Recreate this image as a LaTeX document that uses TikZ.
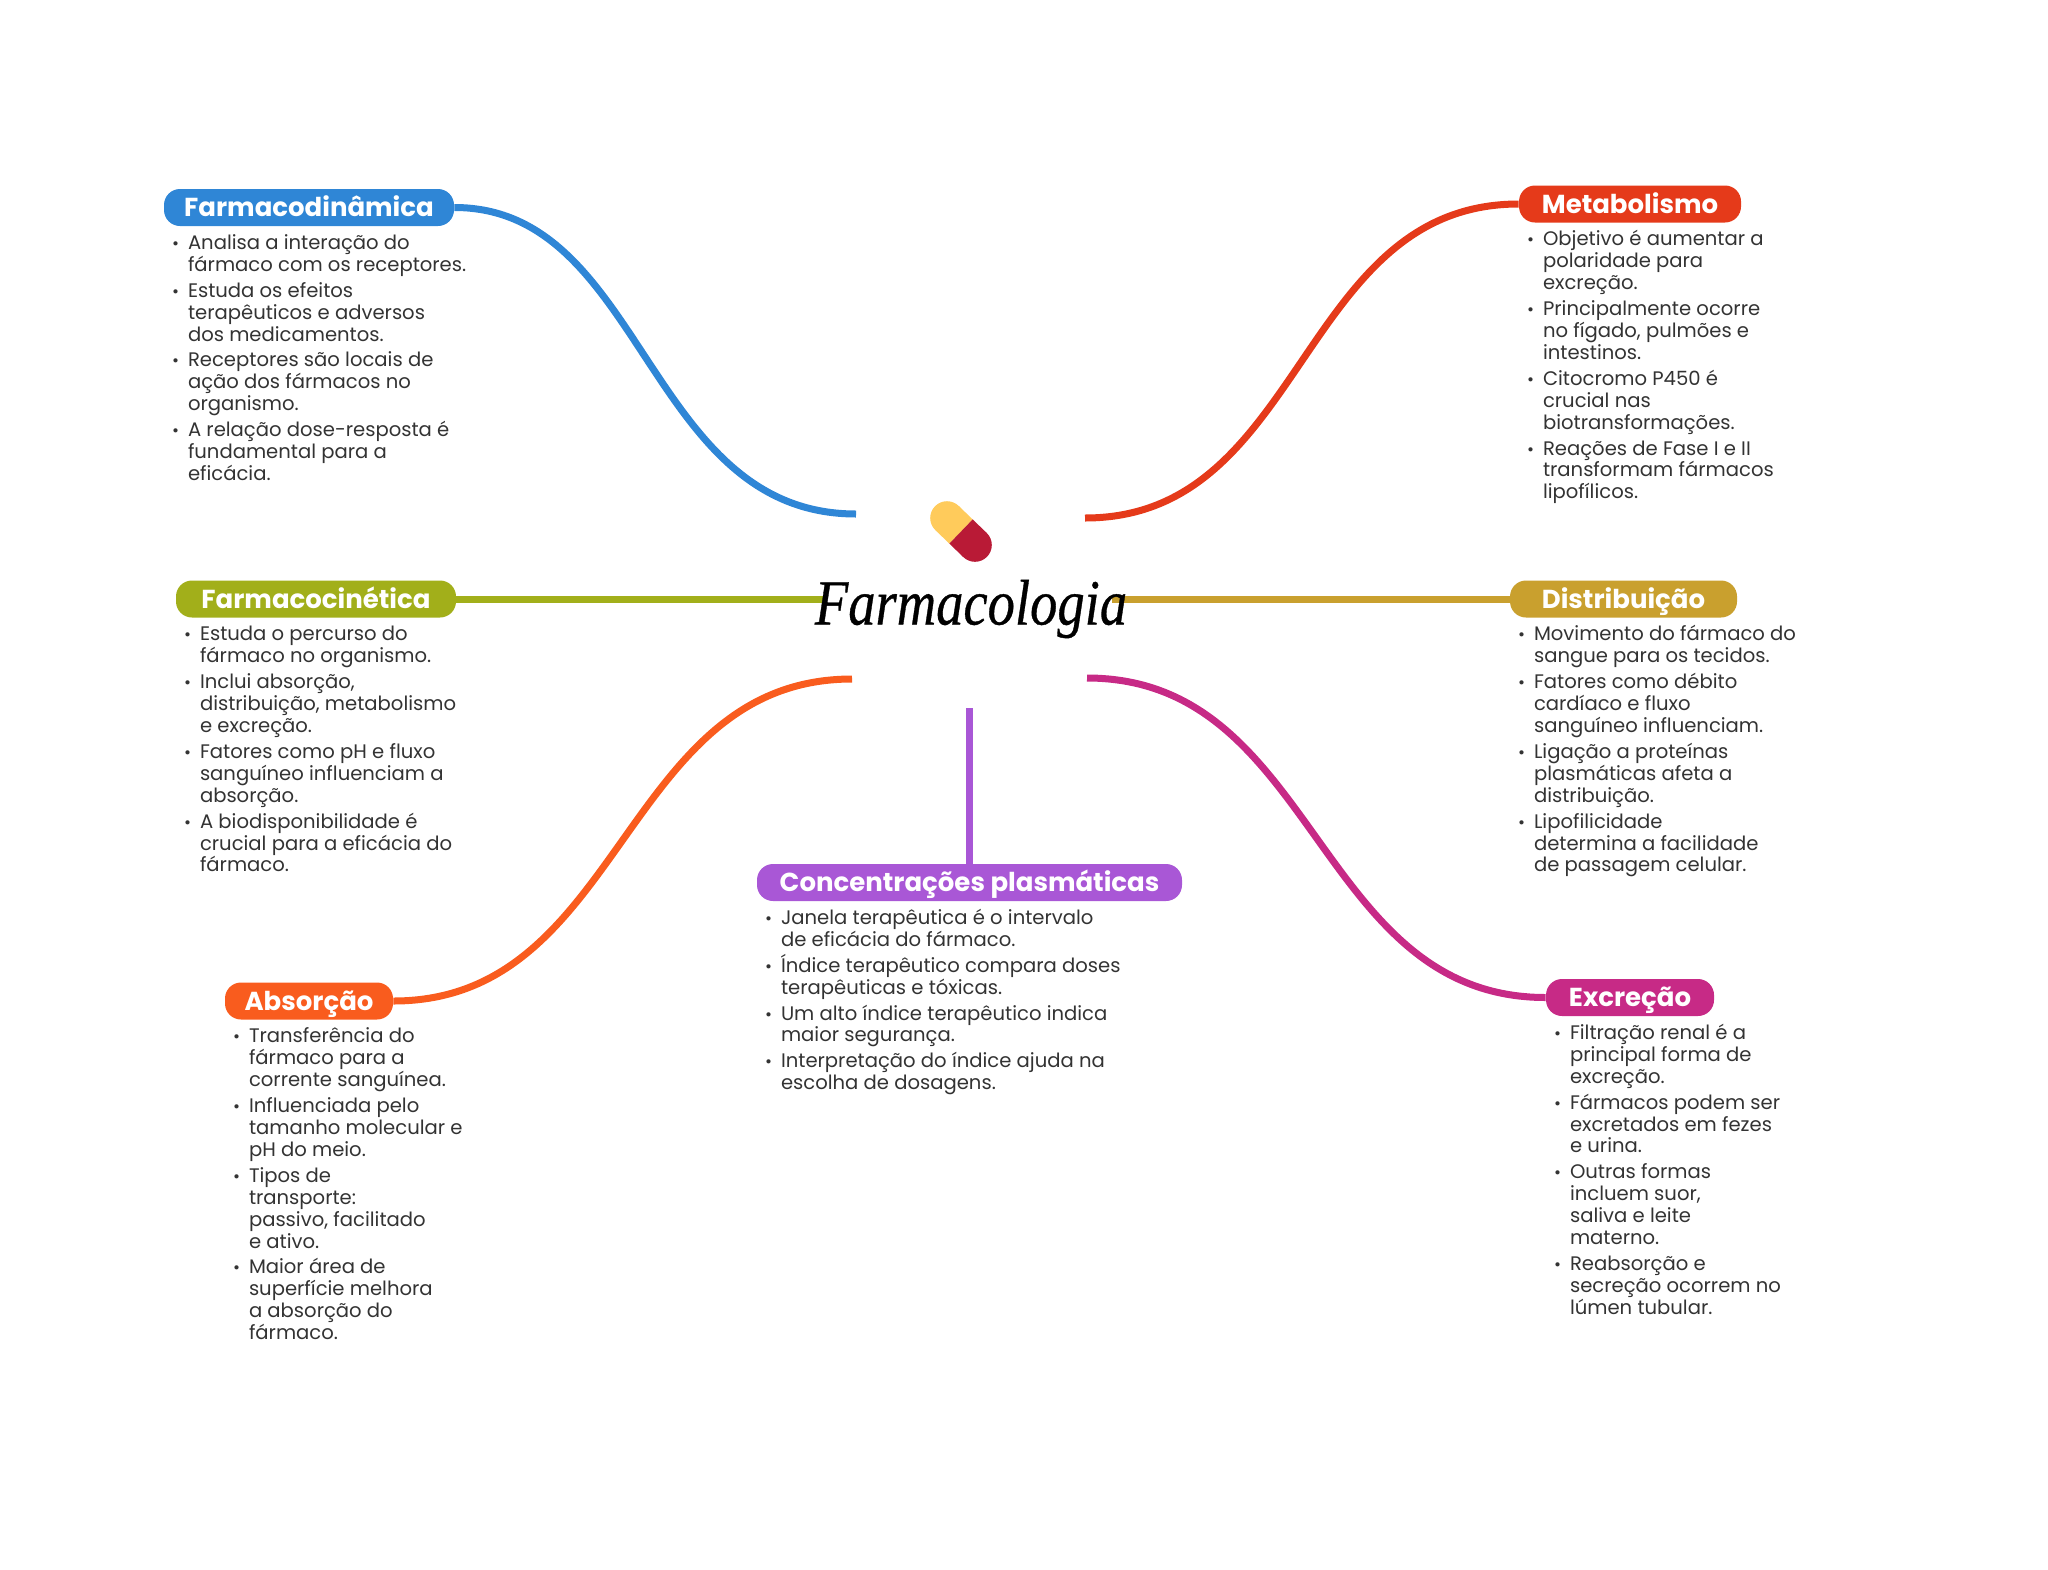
\documentclass[tikz,border=0pt]{standalone}
\usepackage{fontspec}
\usepackage{xcolor}
\usepackage{graphicx}
\usetikzlibrary{positioning}
\setmainfont{Poppins}
\newfontfamily\titlefont{Liberation Serif}[ItalicFeatures={FakeBold=0.6}]
\definecolor{azul}{HTML}{2F86D6}
\definecolor{vermelho}{HTML}{E53A1A}
\definecolor{oliva}{HTML}{A2AF1A}
\definecolor{ouro}{HTML}{C9A02E}
\definecolor{laranja}{HTML}{F95C1E}
\definecolor{magenta2}{HTML}{C72A86}
\definecolor{roxo}{HTML}{A957D6}
\definecolor{texto}{HTML}{333333}
\definecolor{capsA}{HTML}{FFCB5B}
\definecolor{capsB}{HTML}{B91A36}
\newcommand{\itm}{\rule{0pt}{10pt}\makebox[8pt][l]{\fontsize{8.5pt}{8.5pt}\selectfont •}}
\newcommand{\ind}{\hspace*{8pt}}
\setlength{\lineskiplimit}{-20pt}
\setlength{\normallineskiplimit}{-20pt}

\begin{document}
\begin{tikzpicture}[x=0.5pt,y=-0.5pt,
  pill/.style={fill=#1,text=white,rounded corners=8pt,minimum height=18.5pt,inner sep=0pt,
    text height=11.8pt,text depth=2.5pt,font=\fontsize{13pt}{15pt}\selectfont\bfseries},
  lista/.style={below=1.3pt of #1.south west,anchor=north west,xshift=4pt,inner sep=0pt,align=left,text=texto,
    font=\fontsize{9.8pt}{10.95pt}\selectfont},
  ramo/.style={draw=#1,line width=3.5pt}]
\useasboundingbox (0,0) rectangle (2048,1569);
\coordinate (fimA) at (856,514);
\coordinate (fimB) at (1085,518);
\coordinate (fimC) at (823,599);
\coordinate (fimD) at (1112,599);
\coordinate (fimE) at (852,679);
\coordinate (fimF) at (1087,678);
\coordinate (fimG) at (969.5,708);
\node[pill=azul,minimum width=145pt] (farmacodin) at (309,207.5) {Farmacodinâmica};
\node[pill=vermelho,minimum width=111pt] (metab) at (1630,204) {Metabolismo};
\node[pill=oliva,minimum width=140pt] (farmacocin) at (316,599) {Farmacocinética};
\node[pill=ouro,minimum width=113.5pt] (distrib) at (1623.5,599) {Distribuição};
\node[pill=roxo,minimum width=212.5pt] (concent) at (969.5,882.5) {Concentrações plasmáticas};
\node[pill=laranja,minimum width=84pt] (absor) at (309,1001) {Absorção};
\node[pill=magenta2,minimum width=84pt] (excre) at (1630,997.5) {Excreção};
\draw[ramo=azul] (farmacodin.east) .. controls +(190,0) and +(-210,0) .. (fimA);
\draw[ramo=vermelho] (metab.west) .. controls +(-220,0) and +(220,0) .. (fimB);
\draw[ramo=oliva] (farmacocin.east) -- (fimC);
\draw[ramo=ouro] (distrib.west) -- (fimD);
\draw[ramo=laranja] (absor.east) .. controls +(230,0) and +(-230,0) .. (fimE);
\draw[ramo=magenta2] (excre.west) .. controls +(-230,0) and +(230,0) .. (fimF);
\draw[ramo=roxo] (concent.north) -- (fimG);
\fill[capsA] (947,518) circle[radius=16.8];
\draw[capsA,line width=16.8pt] (947,518) -- (961,531.5);
\fill[capsB] (975,545) circle[radius=16.8];
\draw[capsB,line width=16.8pt] (975,545) -- (961,531.5);
\node[inner sep=0pt,font=\titlefont\itshape\fontsize{31pt}{31pt}\selectfont] (titulo) at (971,609) {\scalebox{0.88}[1.04]{Farmacologia}};
\node[lista=farmacodin] (listaA) {\itm Analisa a interação do\\\ind fármaco com os receptores.\\[2pt]
\itm Estuda os efeitos\\\ind terapêuticos e adversos\\\ind dos medicamentos.\\[2pt]
\itm Receptores são locais de\\\ind ação dos fármacos no\\\ind organismo.\\[2pt]
\itm A relação dose-resposta é\\\ind fundamental para a\\\ind eficácia.};
\node[lista=metab] (listaB) {\itm Objetivo é aumentar a\\\ind polaridade para\\\ind excreção.\\[2pt]
\itm Principalmente ocorre\\\ind no fígado, pulmões e\\\ind intestinos.\\[2pt]
\itm Citocromo P450 é\\\ind crucial nas\\\ind biotransformações.\\[2pt]
\itm Reações de Fase I e II\\\ind transformam fármacos\\\ind lipofílicos.};
\node[lista=farmacocin] (listaC) {\itm Estuda o percurso do\\\ind fármaco no organismo.\\[2pt]
\itm Inclui absorção,\\\ind distribuição, metabolismo\\\ind e excreção.\\[2pt]
\itm Fatores como pH e fluxo\\\ind sanguíneo influenciam a\\\ind absorção.\\[2pt]
\itm A biodisponibilidade é\\\ind crucial para a eficácia do\\\ind fármaco.};
\node[lista=distrib] (listaD) {\itm Movimento do fármaco do\\\ind sangue para os tecidos.\\[2pt]
\itm Fatores como débito\\\ind cardíaco e fluxo\\\ind sanguíneo influenciam.\\[2pt]
\itm Ligação a proteínas\\\ind plasmáticas afeta a\\\ind distribuição.\\[2pt]
\itm Lipofilicidade\\\ind determina a facilidade\\\ind de passagem celular.};
\node[lista=concent] (listaE) {\itm Janela terapêutica é o intervalo\\\ind de eficácia do fármaco.\\[2pt]
\itm Índice terapêutico compara doses\\\ind terapêuticas e tóxicas.\\[2pt]
\itm Um alto índice terapêutico indica\\\ind maior segurança.\\[2pt]
\itm Interpretação do índice ajuda na\\\ind escolha de dosagens.};
\node[lista=absor] (listaF) {\itm Transferência do\\\ind fármaco para a\\\ind corrente sanguínea.\\[2pt]
\itm Influenciada pelo\\\ind tamanho molecular e\\\ind pH do meio.\\[2pt]
\itm Tipos de\\\ind transporte:\\\ind passivo, facilitado\\\ind e ativo.\\[2pt]
\itm Maior área de\\\ind superfície melhora\\\ind a absorção do\\\ind fármaco.};
\node[lista=excre] (listaG) {\itm Filtração renal é a\\\ind principal forma de\\\ind excreção.\\[2pt]
\itm Fármacos podem ser\\\ind excretados em fezes\\\ind e urina.\\[2pt]
\itm Outras formas\\\ind incluem suor,\\\ind saliva e leite\\\ind materno.\\[2pt]
\itm Reabsorção e\\\ind secreção ocorrem no\\\ind lúmen tubular.};
\end{tikzpicture}
\end{document}
